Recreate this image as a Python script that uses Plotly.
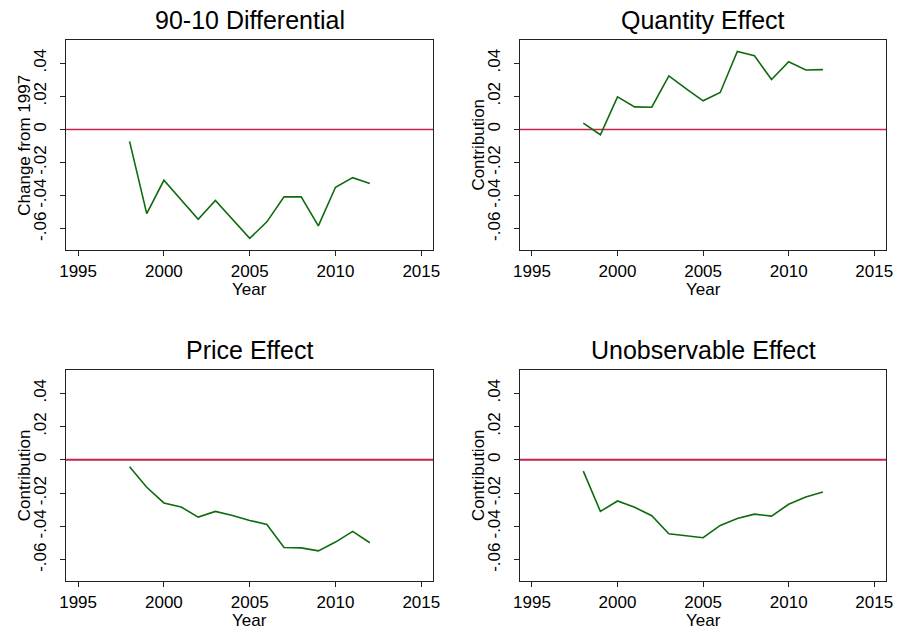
import plotly.graph_objects as go

years = list(range(1998, 2013))

differential = [-0.0072, -0.0508, -0.0307, -0.0423, -0.0542, -0.0429, -0.0544, -0.0658,
                -0.0558, -0.0407, -0.0407, -0.0582, -0.0349, -0.0291, -0.0327]
quantity = [0.0038, -0.0032, 0.0197, 0.0136, 0.0134, 0.0323, 0.0247, 0.0173,
            0.0223, 0.0471, 0.0445, 0.0301, 0.0409, 0.0359, 0.0361]
price = [-0.0042, -0.0165, -0.0259, -0.0283, -0.0344, -0.0310, -0.0334, -0.0364,
         -0.0388, -0.0527, -0.0529, -0.0547, -0.0494, -0.0430, -0.0498]
unobservable = [-0.0068, -0.0310, -0.0247, -0.0285, -0.0336, -0.0444, -0.0456, -0.0468,
                -0.0394, -0.0352, -0.0326, -0.0338, -0.0267, -0.0223, -0.0193]

titles = ["90-10 Differential", "Quantity Effect", "Price Effect", "Unobservable Effect"]
ytitles = ["Change from 1997", "Contribution", "Contribution", "Contribution"]
series = [differential, quantity, price, unobservable]

x_tickvals = [1995, 2000, 2005, 2010, 2015]
y_tickvals = [-0.06, -0.04, -0.02, 0, 0.02, 0.04]
y_ticktext = ["-.06", "-.04", "-.02", "0", ".02", ".04"]

W, H = 908, 630
# panel frames in pixels: (left, right, top, bottom)
frames = [(60, 433, 40, 250), (521, 893, 40, 250),
          (60, 433, 370, 581), (521, 893, 370, 581)]
zero_widths = [1.4, 1.4, 2.0, 2.0]

FONT = "Liberation Sans, Arial, sans-serif"
fig = go.Figure()
annotations = []
shapes = []
for i in range(4):
    l, r, t, b = frames[i]
    xa = "xaxis" if i == 0 else f"xaxis{i+1}"
    ya = "yaxis" if i == 0 else f"yaxis{i+1}"
    xr = "x" if i == 0 else f"x{i+1}"
    yr = "y" if i == 0 else f"y{i+1}"
    axis_common = dict(showgrid=False, zeroline=False, showline=True, mirror=True,
                       linecolor="#222", linewidth=1.3, ticks="outside", ticklen=5,
                       tickcolor="#222", tickwidth=1.2,
                       tickfont=dict(family=FONT, size=17, color="black"))
    fig.update_layout(**{
        xa: dict(domain=[l / W, r / W], range=[1994.3, 2015.7], anchor=yr,
                 tickvals=x_tickvals, ticklabelstandoff=0, **axis_common),
        ya: dict(domain=[1 - b / H, 1 - t / H], range=[-0.0728, 0.054], anchor=xr,
                 tickvals=y_tickvals, ticktext=y_ticktext, tickangle=-90,
                 ticklabelstandoff=7, **axis_common),
    })
    fig.add_trace(go.Scatter(x=years, y=series[i], mode="lines", xaxis=xr, yaxis=yr,
                             line=dict(color="#0e6b0e", width=1.6), showlegend=False))
    shapes.append(dict(type="line", xref=f"{xr} domain", yref=yr, x0=0, x1=1, y0=0, y1=0,
                       line=dict(color="#c8234e", width=zero_widths[i]), layer="below"))
    cx = (l + r) / 2 / W
    annotations.append(dict(text=titles[i], x=cx, y=1 - (t - 20) / H, xref="paper", yref="paper",
                            xanchor="center", yanchor="middle", showarrow=False,
                            font=dict(family=FONT, size=25, color="black")))
    annotations.append(dict(text="Year", x=cx, y=1 - (b + 39.5) / H, xref="paper", yref="paper",
                            xanchor="center", yanchor="middle", showarrow=False,
                            font=dict(family=FONT, size=17, color="black")))
    annotations.append(dict(text=ytitles[i], x=(l - 42) / W, y=1 - (t + b) / 2 / H,
                            xref="paper", yref="paper", textangle=-90,
                            xanchor="center", yanchor="middle", showarrow=False,
                            font=dict(family=FONT, size=17, color="black")))

fig.update_layout(width=W, height=H, margin=dict(l=0, r=0, t=0, b=0),
                  paper_bgcolor="white", plot_bgcolor="white",
                  annotations=annotations, shapes=shapes, showlegend=False)

fig.write_html("out.html")
